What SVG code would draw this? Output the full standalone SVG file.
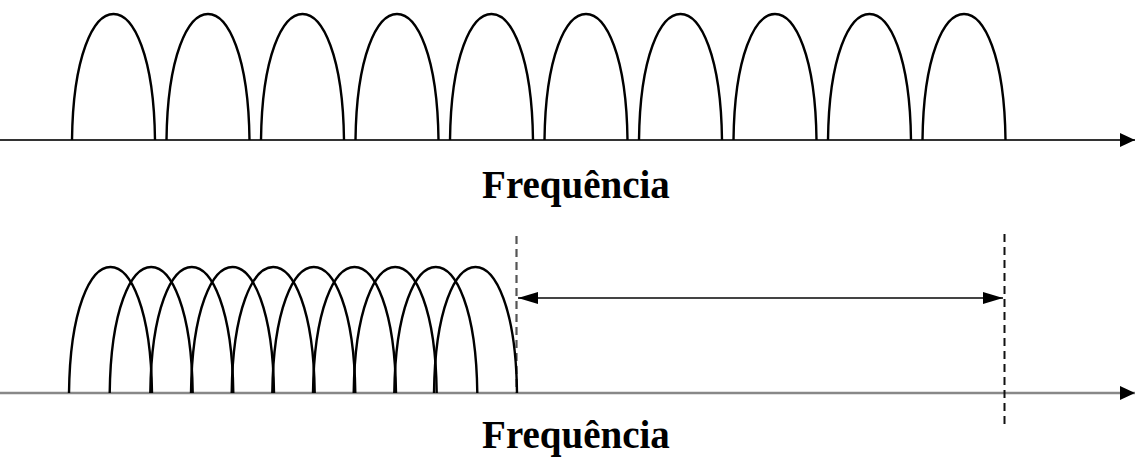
<svg xmlns="http://www.w3.org/2000/svg" width="1135" height="458" viewBox="0 0 1135 458">
<style>
.arch{fill:none;stroke:#000;stroke-width:2.4}
.lbl{font-family:"Liberation Serif","Times New Roman",serif;font-weight:bold;font-size:39px;text-anchor:middle;fill:#000}
</style>
<defs>
<path id="lobe" d="M0,0 C2,-168 81,-168 83,0"/>
<marker id="ah" viewBox="0 0 15 14" refX="15" refY="7" markerWidth="15" markerHeight="14" markerUnits="userSpaceOnUse" orient="auto"><path d="M0,0 L15,7 L0,14 Z" fill="#000"/></marker>
<marker id="dh" viewBox="0 0 20 12" refX="20" refY="6" markerWidth="20" markerHeight="12" markerUnits="userSpaceOnUse" orient="auto-start-reverse"><path d="M0,0 L20,6 L0,12 Z" fill="#000"/></marker>
</defs>
<g id="connectors">
<line x1="0" y1="140" x2="1135" y2="140" stroke="#333" stroke-width="2" marker-end="url(#ah)"/>
<line x1="0" y1="393" x2="1135" y2="393" stroke="#888" stroke-width="2.5" marker-end="url(#ah)"/>
<line x1="516.5" y1="236" x2="516.5" y2="393" stroke="#555" stroke-width="2.2" stroke-dasharray="8,5"/>
<line x1="1004.5" y1="234" x2="1004.5" y2="426" stroke="#111" stroke-width="2" stroke-dasharray="8,5"/>
<line x1="518" y1="298" x2="1003" y2="298" stroke="#444" stroke-width="2.2" marker-start="url(#dh)" marker-end="url(#dh)"/>
</g>
<g id="top-lobes" class="arch">
<use href="#lobe" x="72" y="140"/>
<use href="#lobe" x="166.5" y="140"/>
<use href="#lobe" x="261" y="140"/>
<use href="#lobe" x="355.5" y="140"/>
<use href="#lobe" x="450" y="140"/>
<use href="#lobe" x="544.5" y="140"/>
<use href="#lobe" x="639" y="140"/>
<use href="#lobe" x="733.5" y="140"/>
<use href="#lobe" x="828" y="140"/>
<use href="#lobe" x="922.5" y="140"/>
</g>
<g id="bottom-lobes" class="arch">
<use href="#lobe" x="69" y="393"/>
<use href="#lobe" x="109.7" y="393"/>
<use href="#lobe" x="150.3" y="393"/>
<use href="#lobe" x="191" y="393"/>
<use href="#lobe" x="231.7" y="393"/>
<use href="#lobe" x="272.3" y="393"/>
<use href="#lobe" x="313" y="393"/>
<use href="#lobe" x="353.7" y="393"/>
<use href="#lobe" x="394.3" y="393"/>
<use href="#lobe" x="434" y="393"/>
</g>
<g id="label-top"><text class="lbl" x="576" y="198">Frequência</text></g>
<g id="label-bottom"><text class="lbl" x="576" y="448">Frequência</text></g>
</svg>
